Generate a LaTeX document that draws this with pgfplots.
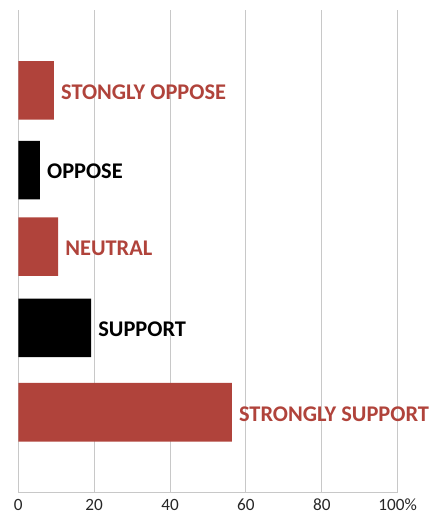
\documentclass[border=0pt]{standalone}
\usepackage{pgfplots}
\pgfplotsset{compat=1.18}
\usepackage{fontspec}
\setmainfont{Carlito}
\definecolor{barred}{HTML}{B0433B}
\definecolor{gridgray}{HTML}{C8C8C8}
\begin{document}
\begin{tikzpicture}
\useasboundingbox (-18.3pt,-23.3pt) rectangle (414.7pt,492.7pt);
\begin{axis}[
  scale only axis,
  width=379.4pt, height=482.7pt,
  xmin=0, xmax=100, ymin=0, ymax=6,
  xbar, bar width=58.5pt, bar shift=0pt,
  clip=false,
  axis x line*=bottom, axis y line*=left,
  axis line style={gridgray, line width=0.9pt},
  xtick={0,20,40,60,80,100},
  xticklabels={0,20,40,60,80,100\%},
  ytick=\empty,
  major tick length=0pt,
  xmajorgrids,
  major grid style={gridgray, line width=0.9pt},
  xticklabel style={font=\fontsize{17.2}{20}\selectfont, text=black!85, yshift=-3pt},
  nodes near coords,
  point meta=explicit symbolic,
  every node near coord/.style={anchor=west, inner sep=0pt, xshift=7pt, yshift=-1.5pt, font=\fontsize{22.4}{26}\selectfont\bfseries},
]
\addplot[fill=barred, draw=none, every node near coord/.append style={text=barred}]
  table[col sep=comma, row sep=\\, x=x, y=y, meta=label] {
x,y,label\\
9.4,5,STONGLY OPPOSE\\
10.5,3.06,NEUTRAL\\
56.3,1,STRONGLY SUPPORT\\
};
\addplot[fill=black, draw=none, every node near coord/.append style={text=black}]
  table[col sep=comma, row sep=\\, x=x, y=y, meta=label] {
x,y,label\\
5.7,4.01,OPPOSE\\
19.2,2.05,SUPPORT\\
};
\end{axis}
\end{tikzpicture}
\end{document}
